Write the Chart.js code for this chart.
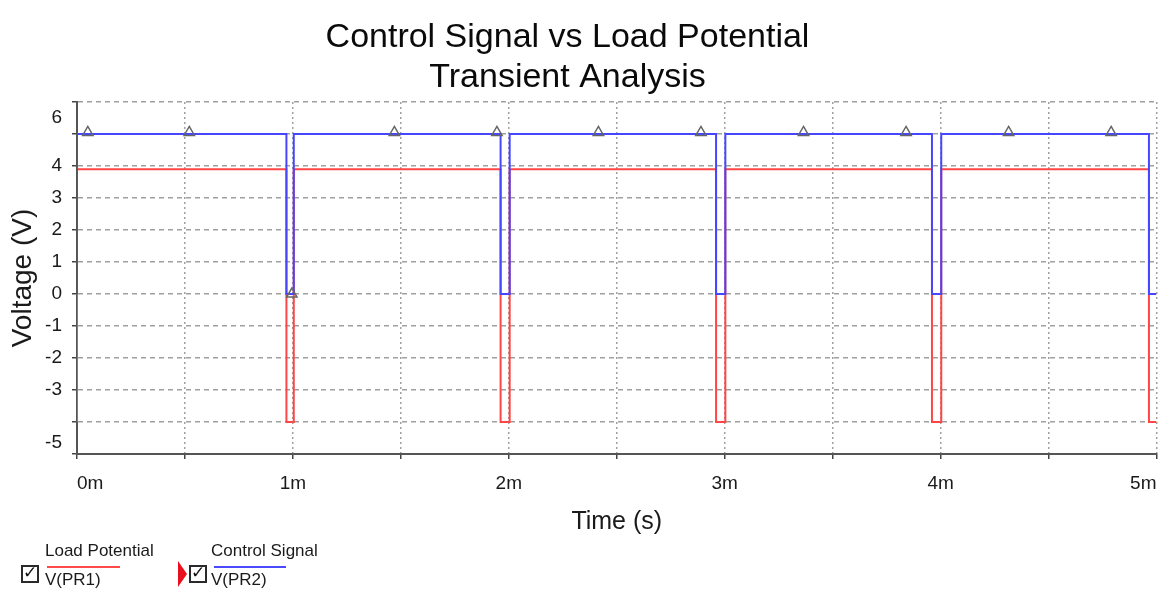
<!DOCTYPE html>
<html>
<head>
<meta charset="utf-8">
<script src="https://cdn.jsdelivr.net/npm/chart.js@4.4.1/dist/chart.umd.min.js"></script>
<style>
    body { margin: 0; background: #fff; }
    #wrap { position: relative; width: 1159px; height: 592px; overflow: hidden; }
    #transient-chart { position: absolute; left: 0; top: 0; }
    .leg { position: absolute; font-family: "Liberation Sans", Arial, sans-serif; font-size: 17px; line-height: 17px; color: #1a1a1a; white-space: nowrap; }
    .swatch { position: absolute; height: 2px; }
    .chk { position: absolute; width: 14px; height: 14px; border: 2px solid #2a2a2a; background: #fff; }
    .chk span { position: absolute; left: 0px; top: -5px; font-family: "DejaVu Sans", sans-serif; font-size: 17px; font-weight: bold; color: #111; }
    .pointer { position: absolute; width: 0; height: 0; border-left: 9px solid #e8101c; border-top: 13px solid transparent; border-bottom: 13px solid transparent; }
</style>
</head>
<body>
<div id="wrap">
    <!-- canvas a bit wider than the window: chart.js keeps a few px free on the right -->
    <canvas id="transient-chart" width="1164" height="592"></canvas>

    <!-- legend, like the simulator's trace list -->
    <div class="chk" style="left:21px; top:565px;"><span>✓</span></div>
    <div class="leg" style="left:45px; top:542px;">Load Potential</div>
    <div class="swatch" style="left:47px; top:566px; width:73px; background:#ff4a4a;"></div>
    <div class="leg" style="left:45px; top:571px;">V(PR1)</div>

    <div class="pointer" style="left:178px; top:561px;"></div>
    <div class="chk" style="left:189px; top:565px;"><span>✓</span></div>
    <div class="leg" style="left:211px; top:542px;">Control Signal</div>
    <div class="swatch" style="left:214px; top:566px; width:72px; background:#4a4aff;"></div>
    <div class="leg" style="left:211px; top:571px;">V(PR2)</div>
</div>

<script>
// time in ms, edges listed twice so the trace is drawn as a square wave
const timeMs = [0, 0, 0.97, 0.97, 1.004, 1.004, 1.962, 1.962, 2.004, 2.004,
                2.96, 2.96, 3.003, 3.003, 3.96, 3.96, 4.003, 4.003, 4.965, 4.965, 5];
const controlSignal = [0, 5, 5, 0, 0, 5, 5, 0, 0, 5,
                       5, 0, 0, 5, 5, 0, 0, 5, 5, 0, 0];
const loadPotential = [-4, 3.9, 3.9, -4, -4, 3.9, 3.9, -4, -4, 3.9,
                       3.9, -4, -4, 3.9, 3.9, -4, -4, 3.9, 3.9, -4, -4];

// little triangle markers the simulator puts on the selected trace
const markerTimes = [0.05, 0.52, 0.995, 1.47, 1.945, 2.415, 2.89, 3.365, 3.84, 4.315, 4.79];
const markerVolts = [5.05, 5.05, 0, 5.05, 5.05, 5.05, 5.05, 5.05, 5.05, 5.05, 5.05];

// axis ticks
const xTickValues = [0, 0.5, 1, 1.5, 2, 2.5, 3, 3.5, 4, 4.5, 5];
const xTickLabels = ['0m', '', '1m', '', '2m', '', '3m', '', '4m', '', '5m'];
const yTickValues = [-5, -4.65, -4, -3, -2, -1, 0, 1, 2, 3, 4, 5, 5.5, 6];
const yTickLabels = ['', '-5', '', '-3', '-2', '-1', '0', '1', '2', '3', '4', '', '6', ''];

const toPoints = (xs, ys) => xs.map((x, i) => ({ x: x, y: ys[i] }));
const isGridValue = v => Number.isInteger(v);

const ctx = document.getElementById('transient-chart').getContext('2d');
const FONT = '"Liberation Sans", Arial, sans-serif';

// the simulator centres its title a bit left of the canvas middle
const titleShift = {
    id: 'titleShift',
    afterLayout: chart => { chart.titleBlock.left = 0; chart.titleBlock.right = 1135; }
};

const transientChart = new Chart(ctx, {
    type: 'line',
    plugins: [titleShift],
    data: {
        datasets: [
            {
                label: 'markers',
                data: toPoints(markerTimes, markerVolts),
                showLine: false,
                pointStyle: 'triangle',
                pointRadius: 6,
                pointBorderWidth: 1.5,
                pointBorderColor: '#666',
                pointBackgroundColor: 'rgba(255,255,255,0)'
            },
            {
                label: 'Control Signal',
                data: toPoints(timeMs, controlSignal),
                borderColor: '#4646ff',
                borderWidth: 2,
                pointRadius: 0,
                tension: 0
            },
            {
                label: 'Load Potential',
                data: toPoints(timeMs, loadPotential),
                borderColor: '#ff4646',
                borderWidth: 2,
                pointRadius: 0,
                tension: 0
            }
        ]
    },
    options: {
        responsive: false,
        animation: false,
        layout: { padding: { left: 0, right: 0, top: 0, bottom: 51 } },
        plugins: {
            legend: { display: false },
            tooltip: { enabled: false },
            title: {
                display: true,
                text: ['Control Signal vs Load Potential', 'Transient Analysis'],
                color: '#0a0a0a',
                font: { family: FONT, size: 34, weight: 'normal', lineHeight: 40 / 34 },
                padding: { top: 18, bottom: 4 }
            }
        },
        scales: {
            x: {
                type: 'linear',
                min: 0,
                max: 5,
                afterBuildTicks: axis => { axis.ticks = xTickValues.map(v => ({ value: v })); },
                afterFit: axis => {
                    axis.height = 87;
                    axis.paddingLeft = 0;
                    axis.paddingRight = 0;
                },
                ticks: {
                    callback: (v, i) => xTickLabels[i],
                    align: 'inner',
                    maxRotation: 0,
                    autoSkip: false,
                    padding: 13,
                    color: '#1a1a1a',
                    font: { family: FONT, size: 19 }
                },
                grid: {
                    color: '#a0a0a0',
                    lineWidth: 1.5,
                    tickLength: 5,
                    tickColor: '#444',
                    tickBorderDash: []
                },
                border: { color: '#555', width: 2, dash: [2, 3] },
                title: {
                    display: true,
                    text: 'Time (s)',
                    color: '#1a1a1a',
                    font: { family: FONT, size: 25 },
                    padding: { top: 0, bottom: 4 }
                }
            },
            y: {
                type: 'linear',
                min: -5,
                max: 6,
                afterBuildTicks: axis => { axis.ticks = yTickValues.map(v => ({ value: v })); },
                afterFit: axis => { axis.width = 77; },
                ticks: {
                    callback: (v, i) => yTickLabels[i],
                    autoSkip: false,
                    padding: 10,
                    color: '#1a1a1a',
                    font: { family: FONT, size: 19 }
                },
                grid: {
                    color: c => isGridValue(c.tick.value) ? '#a0a0a0' : 'rgba(0,0,0,0)',
                    lineWidth: 1.5,
                    tickLength: 5,
                    tickColor: c => isGridValue(c.tick.value) ? '#444' : 'rgba(0,0,0,0)',
                    tickBorderDash: []
                },
                border: { color: '#555', width: 2, dash: [5, 4] },
                title: {
                    display: true,
                    text: 'Voltage (V)',
                    color: '#1a1a1a',
                    font: { family: FONT, size: 28 },
                    padding: { top: 6, bottom: 0 }
                }
            }
        }
    }
});
</script>
</body>
</html>
